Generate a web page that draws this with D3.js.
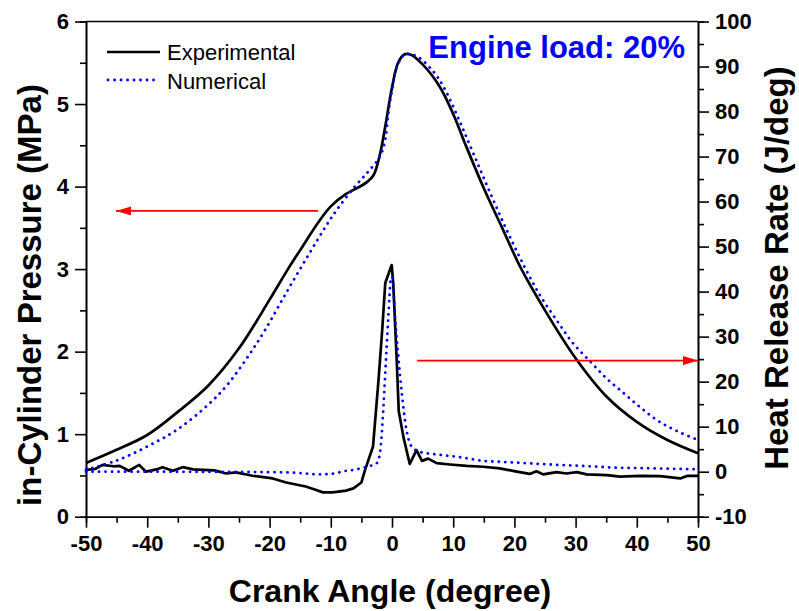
<!DOCTYPE html>
<html>
<head>
<meta charset="utf-8">
<script src="https://cdn.jsdelivr.net/npm/d3@7"></script>
<style>
  html, body { margin: 0; padding: 0; background: #fff; }
  svg { display: block; }
  text { font-family: "Liberation Sans", Arial, sans-serif; }
</style>
</head>
<body>
<svg id="chart" width="799" height="611"></svg>
<script>
// ---------- data ----------
const expPressAngle = [-50,-45,-40,-35,-30,-25,-20,-17,-15,-12,-10,-7.5,-5,-4,-3,-2,-1,0,1,2,3,5,7.8,10,12,15,18,21,25,30,35,40,45,50];
const expPressValue = [0.65,0.81,0.99,1.27,1.59,2.04,2.63,3.0,3.23,3.57,3.76,3.91,4.01,4.06,4.14,4.38,4.77,5.2,5.5,5.6,5.6,5.48,5.21,4.88,4.51,3.98,3.50,3.02,2.50,1.92,1.46,1.15,0.93,0.77];

const numPressAngle = [-50,-45,-40,-35,-30,-27,-24,-21,-17,-13.5,-10.8,-9,-6.3,-3.9,-2,-1.1,-0.6,0,0.8,2.1,4,6.8,8.7,11,13.3,16,18.7,21.5,24.2,27,29.6,32.4,35,37.8,40.5,43.3,46.5,50];
const numPressValue = [0.57,0.68,0.85,1.06,1.36,1.59,1.89,2.23,2.75,3.19,3.52,3.72,3.98,4.18,4.36,4.57,4.89,5.17,5.45,5.6,5.58,5.39,5.17,4.80,4.40,3.93,3.48,3.05,2.68,2.37,2.10,1.88,1.68,1.50,1.33,1.17,1.04,0.93];

const expHrrAngle = [-50,-48.5,-47.3,-45.5,-44.5,-43,-41.3,-40.2,-38.5,-37.5,-35.8,-34.2,-32.5,-30.9,-29,-27.1,-25.5,-22.8,-19.5,-17.3,-14.1,-12.5,-11.3,-9.7,-7.5,-6.3,-5,-4.4,-3.1,-2.2,-1.6,-1.1,-0.05,0.2,0.77,1.1,1.9,2.9,4.0,4.9,5.9,7.3,9.5,12.2,14.9,17.6,20.4,22.5,23.6,24.7,26.9,28.5,30.2,31.8,35.1,37.3,40.5,43.8,47.1,48.2,50];
const expHrrValue = [0.4,0.6,1.5,1.2,1.3,0.2,1.5,0,0.5,1.0,0.2,1.0,0.5,0.4,0.3,-0.4,-0.15,-0.9,-1.5,-2.4,-3.3,-4.0,-4.6,-4.6,-4.2,-3.7,-2.4,0.4,5.6,20.4,31.5,41.9,45.9,41.9,24.8,13.5,7.5,1.7,4.8,2.4,2.9,1.9,1.6,1.3,1.1,0.75,0,-0.5,0.1,-0.6,-0.1,-0.4,-0.1,-0.6,-0.75,-1.1,-0.95,-1.0,-1.5,-0.95,-0.95];

const numHrrAngle = [-50,-40,-30,-20,-15,-12,-10,-7.5,-6.3,-4.1,-2.5,-2.2,-1.7,-1.4,-0.9,-0.6,-0.2,0.05,0.49,1.03,1.6,2.4,3.2,4.6,6.8,9.5,12.2,14.9,17.6,20.4,25.8,31.2,36.6,42.1,50];
const numHrrValue = [0,0,-0.05,-0.1,-0.3,-0.6,-0.5,0.2,0.4,1.1,1.9,2.6,7.8,14.4,27,34.4,42.6,43.3,34.4,25.6,17.4,9,5.6,4.4,3.9,3.5,3.0,2.4,2.2,2.0,1.6,1.27,0.9,0.75,0.52];

const xTicks = [-50,-40,-30,-20,-10,0,10,20,30,40,50];
const leftTicks = [0,1,2,3,4,5,6];
const rightTicks = [-10,0,10,20,30,40,50,60,70,80,90,100];
const seriesNames = ["Experimental", "Numerical"];
const annotation = "Engine load: 20%";
const xTitle = "Crank Angle (degree)";
const leftTitle = "in-Cylinder Pressure (MPa)";
const rightTitle = "Heat Release Rate (J/deg)";

// ---------- layout ----------
const W = 799, H = 611;
const L = 86, R = 698, T = 21.5, B = 516.7;
const svg = d3.select("#chart");

const x = d3.scaleLinear().domain([-50, 50]).range([L, R]);
const yP = d3.scaleLinear().domain([0, 6]).range([B, T]);
const yH = d3.scaleLinear().domain([-10, 100]).range([B, T]);

const tickFont = 'bold 22px "Liberation Sans", Arial, sans-serif';

// frame
svg.append("line").attr("x1", L).attr("x2", R).attr("y1", T).attr("y2", T)
  .attr("stroke", "#000").attr("stroke-width", 1.6);

function styleAxis(g) {
  g.selectAll("path.domain").attr("stroke", "#000").attr("stroke-width", 1.6);
  g.selectAll(".tick line").attr("stroke", "#000").attr("stroke-width", 1.6);
  g.selectAll(".tick text").attr("fill", "#000").style("font", tickFont);
}

// minor ticks
const xMinor = d3.range(-45, 50, 10);
const pMinor = d3.range(0.5, 6, 1);
const hMinor = d3.range(-5, 100, 10);

const gxMinor = svg.append("g").attr("transform", `translate(0,${B})`)
  .call(d3.axisBottom(x).tickValues(xMinor).tickSize(6).tickFormat(""));
const gx = svg.append("g").attr("transform", `translate(0,${B})`)
  .call(d3.axisBottom(x).tickValues(xTicks).tickSize(11).tickSizeOuter(0).tickPadding(8).tickFormat(d => String(d)));
const glMinor = svg.append("g").attr("transform", `translate(${L},0)`)
  .call(d3.axisLeft(yP).tickValues(pMinor).tickSize(6).tickFormat(""));
const gl = svg.append("g").attr("transform", `translate(${L},0)`)
  .call(d3.axisLeft(yP).tickValues(leftTicks).tickSize(11).tickSizeOuter(0).tickPadding(6).tickFormat(d => String(d)));
const grMinor = svg.append("g").attr("transform", `translate(${R},0)`)
  .call(d3.axisRight(yH).tickValues(hMinor).tickSize(6).tickFormat(""));
const gr = svg.append("g").attr("transform", `translate(${R},0)`)
  .call(d3.axisRight(yH).tickValues(rightTicks).tickSize(11).tickSizeOuter(0).tickPadding(6).tickFormat(d => String(d)));
[gxMinor, gx, glMinor, gl, grMinor, gr].forEach(styleAxis);

// ---------- lines ----------
function pairs(a, v) { return a.map((d, i) => [d, v[i]]); }

const linePSmooth = d3.line().x(d => x(d[0])).y(d => yP(d[1])).curve(d3.curveCatmullRom.alpha(0.5));
const lineHLin = d3.line().x(d => x(d[0])).y(d => yH(d[1]));
const lineHSmooth = d3.line().x(d => x(d[0])).y(d => yH(d[1])).curve(d3.curveMonotoneX);

const blackStyle = s => s.attr("fill", "none").attr("stroke", "#000").attr("stroke-width", 2.7).attr("stroke-linejoin", "round");
const blueStyle = s => s.attr("fill", "none").attr("stroke", "#0000ff").attr("stroke-width", 2.8)
  .attr("stroke-dasharray", "0.1,6.4").attr("stroke-linecap", "round");

svg.append("path").datum(pairs(expPressAngle, expPressValue)).attr("d", linePSmooth).call(blackStyle);
svg.append("path").datum(pairs(expHrrAngle, expHrrValue)).attr("d", lineHLin).call(blackStyle);
svg.append("path").datum(pairs(numPressAngle, numPressValue)).attr("d", linePSmooth).call(blueStyle);
svg.append("path").datum(pairs(numHrrAngle, numHrrValue)).attr("d", lineHSmooth).call(blueStyle);

// ---------- arrows ----------
const defs = svg.append("defs");
defs.append("marker").attr("id", "arrowRed").attr("viewBox", "0 0 15 9")
  .attr("refX", 15).attr("refY", 4.5).attr("markerWidth", 15).attr("markerHeight", 9)
  .attr("markerUnits", "userSpaceOnUse").attr("orient", "auto")
  .append("path").attr("d", "M0,0 L15,4.5 L0,9 Z").attr("fill", "#ff0000");

// left-pointing arrow (pressure -> left axis)
svg.append("line").attr("x1", x(-12.1)).attr("y1", yP(3.705)).attr("x2", x(-45.1)).attr("y2", yP(3.705))
  .attr("stroke", "#ff0000").attr("stroke-width", 1.6).attr("marker-end", "url(#arrowRed)");
// right-pointing arrow (HRR -> right axis)
svg.append("line").attr("x1", x(4.1)).attr("y1", yH(24.67)).attr("x2", x(50)).attr("y2", yH(24.67))
  .attr("stroke", "#ff0000").attr("stroke-width", 1.6).attr("marker-end", "url(#arrowRed)");

// ---------- legend ----------
const lg = svg.append("g");
lg.append("line").attr("x1", 107).attr("x2", 160).attr("y1", 52).attr("y2", 52).call(blackStyle);
lg.append("text").attr("x", 167).attr("y", 60).text(seriesNames[0])
  .style("font", '22px "Liberation Sans", Arial, sans-serif').attr("fill", "#000");
lg.append("line").attr("x1", 108).attr("x2", 160).attr("y1", 80).attr("y2", 80).call(blueStyle);
lg.append("text").attr("x", 167).attr("y", 89).text(seriesNames[1])
  .style("font", '22px "Liberation Sans", Arial, sans-serif').attr("fill", "#000");

// annotation
svg.append("text").attr("x", 685).attr("y", 58).attr("text-anchor", "end")
  .style("font", 'bold 31px "Liberation Sans", Arial, sans-serif').attr("fill", "#0000ff")
  .text(annotation);

// ---------- titles ----------
svg.append("text").attr("x", 390).attr("y", 602).attr("text-anchor", "middle")
  .style("font", 'bold 32px "Liberation Sans", Arial, sans-serif').attr("fill", "#000")
  .text(xTitle);
svg.append("text").attr("transform", `translate(41,295) rotate(-90)`).attr("text-anchor", "middle")
  .style("font", 'bold 33px "Liberation Sans", Arial, sans-serif').attr("fill", "#000")
  .text(leftTitle);
svg.append("text").attr("transform", `translate(788,268) rotate(-90)`).attr("text-anchor", "middle")
  .style("font", 'bold 33px "Liberation Sans", Arial, sans-serif').attr("fill", "#000")
  .text(rightTitle);
</script>
</body>
</html>
